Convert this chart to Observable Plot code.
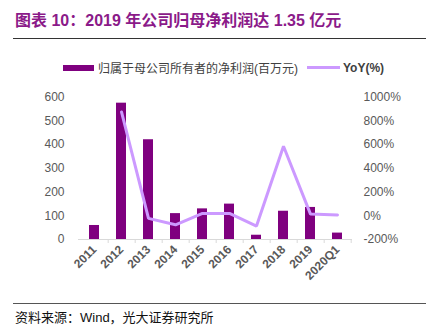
<!DOCTYPE html>
<html><head><meta charset="utf-8">
<script src="https://cdn.jsdelivr.net/npm/d3@7"></script>
<script src="https://cdn.jsdelivr.net/npm/@observablehq/plot@0.6"></script>
<style>
body{margin:0;background:#fff;font-family:"Liberation Sans","Noto Sans CJK SC",sans-serif;}
#wrap{position:relative;width:432px;height:326px;overflow:hidden;}
#title{position:absolute;left:15px;top:7px;font-size:16px;font-weight:bold;color:#8B1A89;font-family:"Liberation Sans","Noto Sans CJK SC",sans-serif;white-space:nowrap;}
.hr{position:absolute;left:13px;width:413px;height:1px;background:#333;}
#legend{position:absolute;left:63px;top:59px;font-size:12px;color:#404040;white-space:nowrap;display:flex;align-items:center;}
#legend .sw{display:inline-block;width:31px;height:6px;background:#7F007F;margin-right:4px;}
#legend .ln{display:inline-block;width:33px;height:3px;background:#CC99FF;margin:0 3px 0 9px;}
#chart{position:absolute;left:0;top:80px;}
#source{position:absolute;left:15px;top:307px;font-size:13px;color:#111;white-space:nowrap;}
</style></head>
<body><div id="wrap">
<div id="title">图表 10：2019 年公司归母净利润达 1.35 亿元</div>
<div class="hr" style="top:38px"></div>
<div id="legend"><span class="sw"></span>归属于母公司所有者的净利润(百万元)<span class="ln"></span><b>YoY(%)</b></div>
<div id="chart"></div>
<div class="hr" style="top:303px;background:#555"></div>
<div id="source">资料来源：Wind，光大证券研究所</div>
</div>
<script>
const years = ["2011","2012","2013","2014","2015","2016","2017","2018","2019","2020Q1"];
const profit = [59, 574, 420, 109, 129, 149, 18, 119, 135, 27];
const yoy = [NaN, 874, -22, -76, 20, 20, -87, 585, 14, 6];
const leftTicks = [0,100,200,300,400,500,600];
const rightTicks = [-200,0,200,400,600,800,1000];

// right axis maps onto left scale: -200% -> 0, 1000% -> 600
const toLeft = v => (v + 200) / 2;
const data = years.map((y,i)=>({year:y, profit:profit[i], yoy:yoy[i], yoyL: toLeft(yoy[i])}));

const W = 432, ML = 78, MR = 80;
const halfStep = (W - ML - MR) / years.length / 2;

const chart = Plot.plot({
  width: W, height: 220,
  marginLeft: ML, marginRight: MR, marginTop: 16.5, marginBottom: 61,
  style: {fontFamily: "Liberation Sans, Noto Sans CJK SC, sans-serif", fontSize: "12px", color: "#595959", background: "transparent"},
  x: {domain: years, paddingInner: 0.635, paddingOuter: 0.3175, label: null},
  y: {domain: [0, 600], label: null},
  marks: [
    Plot.axisY(leftTicks, {anchor: "left", tickSize: 0, tickPadding: 14, label: null, fontSize: 12, fill: "#595959"}),
    Plot.axisY(rightTicks.map(toLeft), {anchor: "right", tickSize: 0, tickPadding: 11, label: null, fontSize: 12, fill: "#595959",
      tickFormat: d => (d*2 - 200) + "%"}),
    Plot.barY(data, {x: "year", y: "profit", fill: "#7F007F"}),
    Plot.ruleY([0], {stroke: "#d9d9d9"}),
    Plot.axisX({text: null, tickSize: 4, dx: halfStep, stroke: "#d9d9d9", label: null}),
    Plot.axisX({tickSize: 0, tickRotate: -45, tickPadding: 8, fontSize: 12, fontWeight: "bold", fill: "#595959", label: null}),
    Plot.line(data, {x: "year", y: "yoyL", stroke: "#CC99FF", strokeWidth: 3, strokeLinejoin: "miter"})
  ]
});
document.getElementById("chart").appendChild(chart);
</script>
</body></html>
